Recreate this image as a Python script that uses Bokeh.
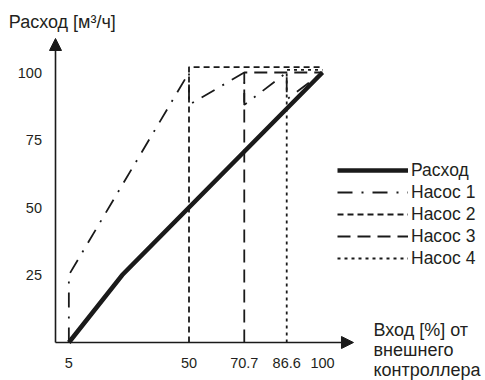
from bokeh.plotting import figure
from bokeh.models import (Range1d, Arrow, NormalHead, Label, Legend, LegendItem,
                          ColumnDataSource)
from bokeh.core.properties import value
from bokeh.embed import file_html
from bokeh.resources import INLINE

# ---- data ----
flow_x = [5, 25, 100]
flow_y = [0, 25, 100]

pump1_x = [5, 5, 50, 50, 70.7, 70.7, 86.6, 86.6, 100]
pump1_y = [0, 25, 100, 88, 100, 88, 100, 90, 100]

pump2_x = [50, 50, 100]
pump2_y = [0, 102, 102]

pump3_x = [70.7, 70.7, 100]
pump3_y = [0, 100, 100]

pump4_x = [86.6, 86.6, 100]
pump4_y = [0, 101, 101]

x_ticks = [5, 50, 70.7, 86.6, 100]
x_tick_labels = ["5", "50", "70.7", "86.6", "100"]
y_ticks = [25, 50, 75, 100]
y_tick_labels = ["25", "50", "75", "100"]

series_names = ["Расход", "Насос 1", "Насос 2", "Насос 3", "Насос 4"]
y_title = "Расход [м³/ч]"
x_title_lines = ["Вход [%] от", "внешнего", "контроллера"]

# ---- styling ----
FONT = "Liberation Sans"
TXT = "#231f20"
INK = "#1a1a1a"
X_END = 111.6
Y_END = 112.6

p = figure(width=485, height=380, min_border=0,
           x_range=Range1d(-20.6, 161.05), y_range=Range1d(-14.07, 126.67),
           output_backend="svg", toolbar_location=None,
           x_axis_type=None, y_axis_type=None)
p.outline_line_color = None
p.xgrid.visible = False
p.ygrid.visible = False
p.background_fill_color = "white"
p.border_fill_color = "white"

# tick labels, placed through the data scales
xt = ColumnDataSource(dict(x=x_ticks, y=[0] * len(x_ticks), t=x_tick_labels))
yt = ColumnDataSource(dict(x=[0] * len(y_ticks), y=y_ticks, t=y_tick_labels))
p.text(x="x", y="y", text="t", source=xt, y_offset=20, text_align="center",
       text_baseline="middle", text_font=value(FONT), text_font_size="14.5px",
       text_color=TXT)
p.text(x="x", y="y", text="t", source=yt, x_offset=-13.5, text_align="right",
       text_baseline="middle", text_font=value(FONT), text_font_size="14.5px",
       text_color=TXT)

# axes with arrow heads
for xe, ye in ((X_END, 0), (0, Y_END)):
    p.add_layout(Arrow(end=NormalHead(size=12, fill_color=INK, line_color=INK, line_width=1),
                       x_start=0, y_start=0, x_end=xe, y_end=ye,
                       line_color=INK, line_width=1.6))

r0 = p.line(flow_x, flow_y, line_color=INK, line_width=4.5, line_join="miter")
r1 = p.line(pump1_x, pump1_y, line_color=INK, line_width=1.8, line_dash="15 9 2 9")
r2 = p.line(pump2_x, pump2_y, line_color=INK, line_width=1.8, line_dash="6 4")
r3 = p.line(pump3_x, pump3_y, line_color=INK, line_width=1.8, line_dash="13 7")
r4 = p.line(pump4_x, pump4_y, line_color=INK, line_width=1.8, line_dash="3 4")

legend = Legend(items=[LegendItem(label=n, renderers=[r])
                       for n, r in zip(series_names, [r0, r1, r2, r3, r4])],
                location=(337, 111), orientation="vertical",
                glyph_width=71, glyph_height=22, label_height=22,
                label_standoff=3, spacing=0, padding=0, margin=0,
                label_text_font=FONT, label_text_font_size="17.5px",
                label_text_color=TXT,
                border_line_color=None, background_fill_alpha=0)
p.add_layout(legend)

p.add_layout(Label(x=-17.5, y=118.7, text=y_title, text_font=FONT,
                   text_font_size="18px", text_color=TXT,
                   text_baseline="alphabetic", text_align="left"))
for line, yy in zip(x_title_lines, [4.45, -2.95, -10.35]):
    p.add_layout(Label(x=119.1, y=yy, text=line, text_font=FONT,
                       text_font_size="18px", text_color=TXT,
                       text_baseline="alphabetic", text_align="left"))

open("out.html", "w").write(file_html(p, INLINE))
